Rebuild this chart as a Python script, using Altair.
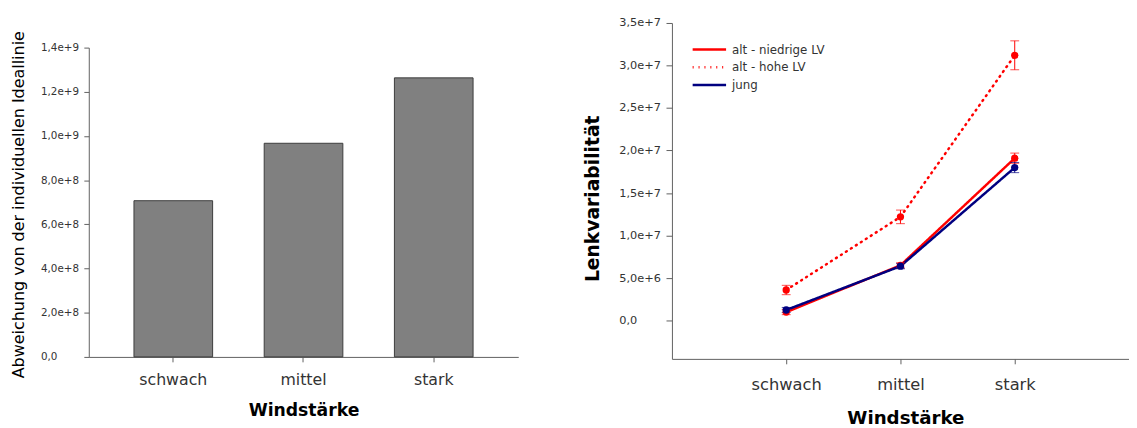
import altair as alt
import pandas as pd

# ---------------- data ----------------
categories = ["schwach", "mittel", "stark"]

# left panel: deviation from individual ideal line
deviation = [7.07e8, 9.67e8, 1.263e9]

# right panel: steering variability per group
series_names = ["alt - niedrige LV", "alt - hohe LV", "jung"]
niedrige_mean = [1.0e6, 6.5e6, 1.91e7]
niedrige_err = [0.3e6, 0.3e6, 0.6e6]
hohe_mean = [3.6e6, 1.22e7, 3.12e7]
hohe_err = [0.55e6, 0.8e6, 1.7e6]
jung_mean = [1.25e6, 6.4e6, 1.8e7]
jung_err = [0.3e6, 0.3e6, 0.6e6]

left_ticks = [0, 2e8, 4e8, 6e8, 8e8, 1.0e9, 1.2e9, 1.4e9]
right_ticks = [0, 5e6, 1.0e7, 1.5e7, 2.0e7, 2.5e7, 3.0e7, 3.5e7]

series_colors = ["#ff0000", "#ff0000", "#000080"]
series_dashes = [[1, 0], [1, 5], [1, 0]]

# ---------------- tables ----------------
df_left = pd.DataFrame({"Windstärke": categories, "value": deviation})

rows = []
for name, means, errs in [
    (series_names[0], niedrige_mean, niedrige_err),
    (series_names[1], hohe_mean, hohe_err),
    (series_names[2], jung_mean, jung_err),
]:
    for c, m, e in zip(categories, means, errs):
        rows.append({"series": name, "cat": c, "mean": m, "err": e})
df_right = pd.DataFrame(rows)

label_expr = "datum.value == 0 ? '0,0' : replace(format(datum.value, '.1e'), '.', ',')"

# ---------------- left chart ----------------
left = alt.Chart(df_left).mark_bar(
    color="#808080", stroke="#3c3c3c", strokeWidth=1
).encode(
    x=alt.X(
        "Windstärke:N",
        sort=categories,
        scale=alt.Scale(paddingInner=0.396, paddingOuter=0.347),
        axis=alt.Axis(
            title="Windstärke",
            labelAngle=0,
            labelFontSize=16,
            labelColor="#333333",
            labelPadding=10,
            tickSize=5,
            tickColor="#606060",
            domainColor="#606060",
            titleFontSize=17.5,
            titleFontWeight="bold",
            titleColor="#000000",
            titleY=45,
        ),
    ),
    y=alt.Y(
        "value:Q",
        scale=alt.Scale(domain=[0, 1.4e9], range=[339, 25], nice=False, zero=True),
        axis=alt.Axis(
            title="Abweichung von der individuellen Ideallinie",
            values=left_ticks,
            labelExpr=label_expr,
            labelAlign="left",
            labelPadding=44,
            labelFontSize=10.5,
            labelColor="#333333",
            tickSize=5,
            tickColor="#606060",
            domainColor="#606060",
            grid=False,
            titleFontSize=16.2,
            titleFontWeight="normal",
            titleColor="#000000",
            titleX=-63,
            titleY=184,
        ),
    ),
).properties(width=436, height=339)

# ---------------- right chart ----------------
x_enc = alt.X(
    "cat:N",
    sort=categories,
    scale=alt.Scale(type="point", padding=1),
    axis=alt.Axis(
        title="Windstärke",
        labelAngle=0,
        labelFontSize=16.5,
        labelColor="#333333",
        labelPadding=13,
        tickSize=5,
        tickColor="#606060",
        domainColor="#606060",
        titleFontSize=18.5,
        titleFontWeight="bold",
        titleColor="#000000",
        titleY=51,
        titleX=237,
    ),
)
y_scale = alt.Scale(domain=[-4.5e6, 3.5e7], nice=False, zero=False)
y_enc = alt.Y(
    "mean:Q",
    scale=y_scale,
    axis=alt.Axis(
        title="Lenkvariabilität",
        values=right_ticks,
        labelExpr=label_expr,
        labelAlign="left",
        labelPadding=48,
        labelFontSize=11.5,
        labelColor="#333333",
        tickSize=6,
        tickColor="#606060",
        domainColor="#606060",
        grid=False,
        titleFontSize=19,
        titleFontWeight="bold",
        titleColor="#000000",
        titleX=-71,
        titleY=178,
    ),
)
color_scale = alt.Scale(domain=series_names, range=series_colors)
dash_scale = alt.Scale(domain=series_names, range=series_dashes)

base = alt.Chart(df_right).transform_calculate(
    lo="datum.mean - datum.err", hi="datum.mean + datum.err"
)

lines = base.mark_line(strokeWidth=2.5, strokeCap="round").encode(
    x=x_enc,
    y=y_enc,
    color=alt.Color(
        "series:N",
        scale=color_scale,
        legend=alt.Legend(
            title=None,
            orient="none",
            legendX=624,
            legendY=21,
            symbolType="M-4,0H4",
            symbolSize=72,
            symbolStrokeWidth=2.5,
            labelFontSize=12,
            labelColor="#333333",
            labelOffset=17,
            rowPadding=6,
            padding=0,
        ),
    ),
    strokeDash=alt.StrokeDash("series:N", scale=dash_scale),
)

bars = base.mark_rule(strokeWidth=1).encode(
    x=alt.X("cat:N", sort=categories),
    y=alt.Y("lo:Q", scale=y_scale),
    y2="hi:Q",
    color=alt.Color("series:N", scale=color_scale, legend=None),
)
caps_lo = base.mark_tick(size=9, thickness=1).encode(
    x=alt.X("cat:N", sort=categories),
    y=alt.Y("lo:Q", scale=y_scale),
    color=alt.Color("series:N", scale=color_scale, legend=None),
)
caps_hi = base.mark_tick(size=9, thickness=1).encode(
    x=alt.X("cat:N", sort=categories),
    y=alt.Y("hi:Q", scale=y_scale),
    color=alt.Color("series:N", scale=color_scale, legend=None),
)
points = base.mark_circle(size=55, opacity=1).encode(
    x=alt.X("cat:N", sort=categories),
    y=alt.Y("mean:Q", scale=y_scale),
    color=alt.Color("series:N", scale=color_scale, legend=None),
)

right = alt.layer(lines, bars, caps_lo, caps_hi, points).properties(
    width=464, height=341
)

chart = alt.hconcat(left, right, spacing=156, bounds="flush").properties(
    padding={"left": 2, "top": 6, "right": 0, "bottom": 0}
).configure(
    font="DejaVu Sans"
).configure_view(
    stroke=None
)

chart.save("out.html", embed_options={"renderer": "svg", "actions": False})
